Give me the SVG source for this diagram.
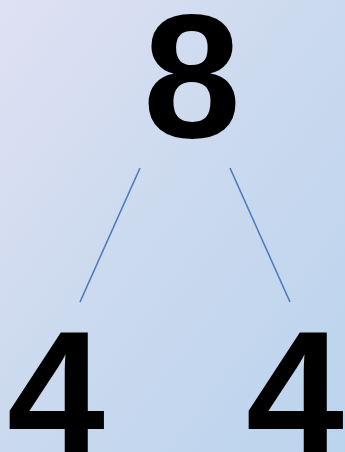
<svg xmlns="http://www.w3.org/2000/svg" width="345" height="452" viewBox="0 0 345 452">
<defs>
<linearGradient id="bg" x1="0" y1="0" x2="1" y2="1">
<stop offset="0" stop-color="#dfe1f3"/>
<stop offset="0.5" stop-color="#cad9ee"/>
<stop offset="1" stop-color="#bbd4ee"/>
</linearGradient>
<style>
.num{font-family:"Liberation Sans",Arial,sans-serif;font-weight:bold;font-size:176px;fill:#000;text-anchor:middle}
.edge{stroke:#4a7dbf;stroke-width:1.6;fill:none}
</style>
</defs>
<rect width="345" height="452" fill="url(#bg)"/>
<g id="connectors">
<line class="edge" x1="140" y1="168" x2="80" y2="302"/>
<line class="edge" x1="230" y1="168" x2="290" y2="302"/>
</g>
<g id="node-8"><text class="num" x="192" y="137">8</text></g>
<g id="node-4-left"><text class="num" x="56" y="454">4</text></g>
<g id="node-4-right"><text class="num" x="295" y="454">4</text></g>
</svg>
